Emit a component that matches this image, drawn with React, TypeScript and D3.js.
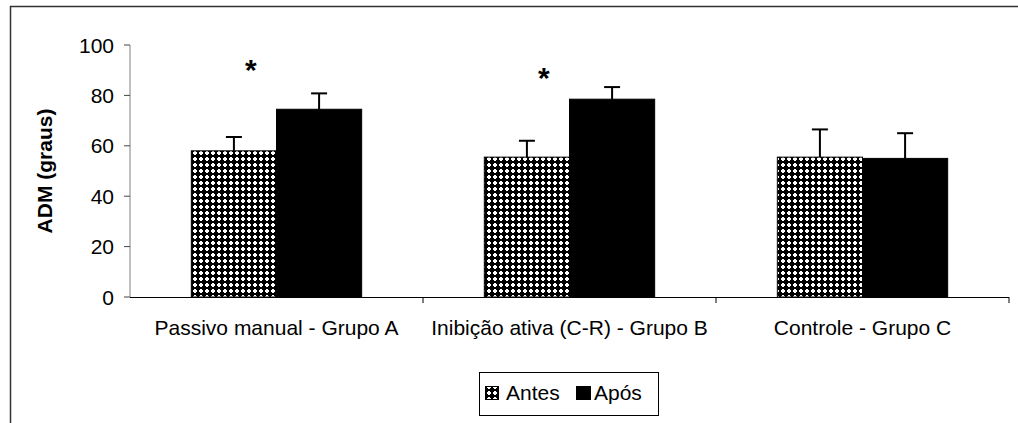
import React from "react";
import * as d3 from "d3";

const categories = ["Passivo manual - Grupo A", "Inibição ativa (C-R) - Grupo B", "Controle - Grupo C"];
const seriesNames = ["Antes", "Após"];
const antes = [58, 55.5, 55.5];
const antesErr = [5.5, 6.5, 11];
const apos = [74.5, 78.5, 55];
const aposErr = [6.3, 4.8, 10];
// height (in graus) where the significance asterisk sits, null = none
const starAt = [93, 89.7, null];
const yTicks = [0, 20, 40, 60, 80, 100];

const App = () => {
  const width = 1018;
  const height = 423;
  const margin = { top: 45, left: 130, right: 9, bottom: 126 };
  const plotH = height - margin.top - margin.bottom;
  const plotR = width - margin.right;

  const x = d3.scaleBand<string>()
    .domain(categories)
    .range([margin.left, plotR]);

  const inner = d3.scaleBand<string>()
    .domain(seriesNames)
    .range([0, x.bandwidth()])
    .paddingOuter(0.72)
    .paddingInner(0);

  const y = d3.scaleLinear()
    .domain([0, 100])
    .range([margin.top + plotH, margin.top]);

  const fonts = "'Liberation Sans', Arial, sans-serif";
  const fs = 21;
  const values = [antes, apos];
  const errs = [antesErr, aposErr];
  const fills = ["url(#dots)", "#000"];

  return (
    <div style={{ position: "fixed", left: 0, top: 0 }}>
      <svg width={width} height={height} style={{ display: "block", fontFamily: fonts }}>
        <defs>
          <pattern id="dots" width={6} height={6} patternUnits="userSpaceOnUse">
            <rect width={6} height={6} fill="#000" />
            <rect x={1} y={2} width={4} height={2} fill="#fff" />
            <rect x={2} y={1} width={2} height={4} fill="#fff" />
          </pattern>
        </defs>
        <rect x={0} y={0} width={width} height={height} fill="#fff" />
        {/* chart frame, runs off the right and bottom */}
        <rect x={10.5} y={6.5} width={1100} height={600} fill="none" stroke="#333" strokeWidth={1.5} />

        {/* bars */}
        {categories.map((c, i) =>
          seriesNames.map((s, j) => {
            const bx = (x(c) as number) + (inner(s) as number);
            const bw = inner.bandwidth();
            const v = values[j][i];
            const cx = bx + bw / 2;
            const top = y(v + errs[j][i]);
            return (
              <g key={c + s}>
                <line x1={cx} x2={cx} y1={y(v)} y2={top} stroke="#000" strokeWidth={2} />
                <line x1={cx - 8} x2={cx + 8} y1={top} y2={top} stroke="#000" strokeWidth={2} />
                <rect x={bx} y={y(v)} width={bw} height={y(0) - y(v)} fill={fills[j]} stroke="#000" strokeWidth={1} />
              </g>
            );
          })
        )}

        {/* significance markers */}
        {categories.map((c, i) =>
          starAt[i] != null ? (
            <text key={c} x={(x(c) as number) + (inner("Antes") as number) + inner.bandwidth() * 0.7}
              y={y(starAt[i] as number) + 17}
              fontSize={30} fontWeight="bold" textAnchor="middle">*</text>
          ) : null
        )}

        {/* y axis */}
        <line x1={margin.left} x2={margin.left} y1={y(100)} y2={y(0)} stroke="#808080" strokeWidth={1} />
        {yTicks.map((t) => (
          <g key={t}>
            <line x1={margin.left - 6} x2={margin.left} y1={y(t)} y2={y(t)} stroke="#444" />
            <text x={margin.left - 16} y={y(t)} dy="0.36em" textAnchor="end" fontSize={fs}>{t}</text>
          </g>
        ))}
        <text transform={`translate(52,${y(50)}) rotate(-90)`} textAnchor="middle" fontSize={fs} fontWeight="bold">ADM (graus)</text>

        {/* x axis */}
        <line x1={margin.left} x2={plotR} y1={y(0) + 0.5} y2={y(0) + 0.5} stroke="#000" />
        {categories.map((c, i) => (
          <g key={c}>
            {i > 0 ? <line x1={x(c)} x2={x(c)} y1={y(0)} y2={y(0) + 6} stroke="#000" /> : null}
            <text x={(x(c) as number) + x.bandwidth() / 2} y={335} textAnchor="middle" fontSize={fs}>{c}</text>
          </g>
        ))}
        <line x1={plotR} x2={plotR} y1={y(0)} y2={y(0) + 6} stroke="#000" />

        {/* legend */}
        <rect x={479.5} y={372.5} width={179} height={43} fill="#fff" stroke="#000" />
        <rect x={485.5} y={386.5} width={13} height={13} fill="url(#dots)" stroke="#000" />
        <text x={506} y={400} fontSize={fs}>{seriesNames[0]}</text>
        <rect x={576} y={386} width={15} height={14} fill="#000" />
        <text x={594} y={400} fontSize={fs}>{seriesNames[1]}</text>
      </svg>
    </div>
  );
};

export default App;
